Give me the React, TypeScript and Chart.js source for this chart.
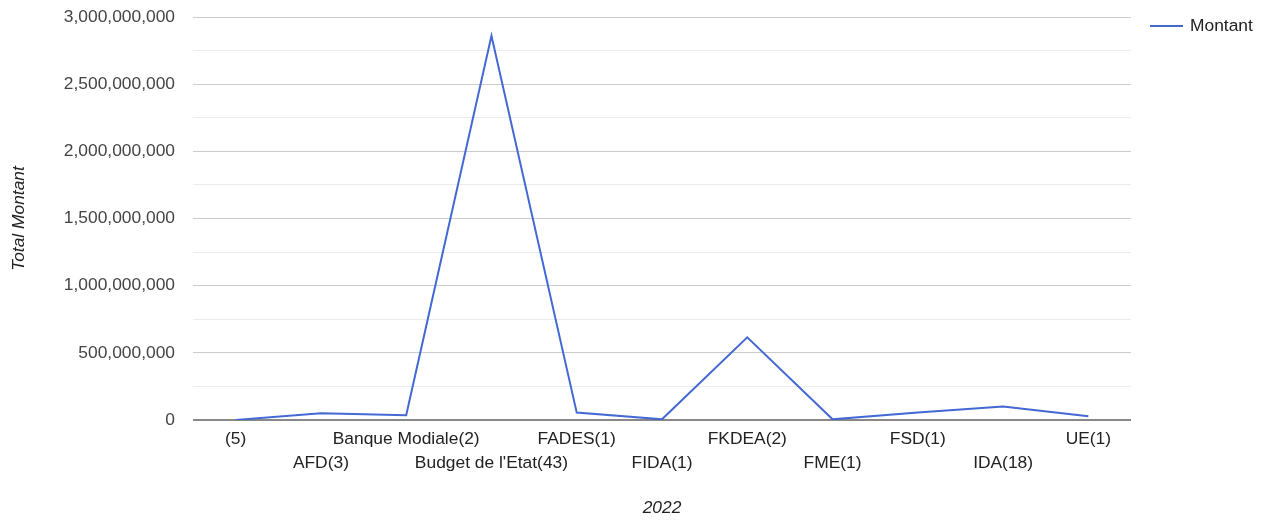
import React, { useEffect, useRef } from 'react';
import { Chart, registerables } from 'chart.js';

Chart.register(...registerables);

const categories = [
  '(5)',
  'AFD(3)',
  'Banque Modiale(2)',
  "Budget de l'Etat(43)",
  'FADES(1)',
  'FIDA(1)',
  'FKDEA(2)',
  'FME(1)',
  'FSD(1)',
  'IDA(18)',
  'UE(1)',
];
const montant = [
  500000, 50000000, 35000000, 2860000000, 55000000, 5000000, 615000000, 5000000, 55000000,
  100000000, 28000000,
];
const seriesName = 'Montant';
const xTitle = '2022';
const yTitle = 'Total Montant';
const yMin = 0;
const yMax = 3000000000;
const yMajorStep = 500000000;
const yMinorStep = 250000000;

const FONT = '"Liberation Sans", Arial, sans-serif';
const FS = 17.4;
const LINE_COLOR = '#4468d4';

const legendPlugin = {
  id: 'rightLegend',
  afterDraw(chart: any) {
    const ctx = chart.ctx;
    const area = chart.chartArea;
    const y = area.top + 9;
    const x0 = area.right + 19;
    ctx.save();
    ctx.strokeStyle = LINE_COLOR;
    ctx.lineWidth = 2;
    ctx.beginPath();
    ctx.moveTo(x0, y);
    ctx.lineTo(x0 + 33, y);
    ctx.stroke();
    ctx.fillStyle = '#222222';
    ctx.font = `${FS}px ${FONT}`;
    ctx.textBaseline = 'middle';
    ctx.textAlign = 'left';
    ctx.fillText(chart.data.datasets[0].label, x0 + 40, y);
    ctx.restore();
  },
};

export default function App() {
  const ref = useRef<HTMLCanvasElement>(null);

  useEffect(() => {
    if (!ref.current) return;
    const chart = new Chart(ref.current, {
      type: 'line',
      data: {
        labels: categories,
        datasets: [
          {
            label: seriesName,
            data: montant,
            borderColor: LINE_COLOR,
            backgroundColor: LINE_COLOR,
            borderWidth: 2,
            pointRadius: 0,
            pointHoverRadius: 0,
            tension: 0,
            fill: false,
          },
        ],
      },
      options: {
        animation: false,
        responsive: false,
        devicePixelRatio: 1,
        layout: { padding: { top: 17, right: 133, bottom: 0, left: 0 } },
        plugins: {
          legend: { display: false },
          tooltip: { enabled: false },
        },
        scales: {
          x: {
            type: 'category',
            offset: true,
            grid: { display: false, drawTicks: false },
            border: { display: false },
            afterFit: (scale: any) => {
              scale.height = 102;
              scale.paddingLeft = 0;
              scale.paddingRight = 0;
            },
            ticks: {
              autoSkip: false,
              maxRotation: 0,
              minRotation: 0,
              padding: 7,
              color: '#222222',
              font: { family: FONT, size: FS, lineHeight: 24 / FS },
              callback: function (this: any, _v: any, i: number) {
                const label = categories[i];
                return i % 2 === 1 ? ['', label] : label;
              },
            },
            title: {
              display: true,
              text: xTitle,
              color: '#222222',
              font: { family: FONT, size: FS, style: 'italic', lineHeight: 1.2 },
              padding: { top: 0, bottom: 3.6 },
            },
          },
          y: {
            min: yMin,
            max: yMax,
            afterFit: (scale: any) => {
              scale.width = 193;
              scale.paddingTop = 0;
              scale.paddingBottom = 0;
            },
            border: { display: false },
            grid: {
              drawTicks: false,
              color: (c: any) =>
                c.tick && c.tick.value === 0
                  ? '#888888'
                  : c.tick && c.tick.value % yMajorStep === 0
                  ? '#cccccc'
                  : '#ebebeb',
              lineWidth: (c: any) => (c.tick && c.tick.value === 0 ? 2 : 1),
            },
            ticks: {
              stepSize: yMinorStep,
              padding: 18,
              color: '#444444',
              font: { family: FONT, size: FS },
              callback: (v: any) =>
                Number(v) % yMajorStep === 0 ? Number(v).toLocaleString('en-US') : '',
            },
            title: {
              display: true,
              text: yTitle,
              color: '#222222',
              font: { family: FONT, size: FS, style: 'italic', lineHeight: 1.2 },
              padding: { top: 9.2, bottom: 0 },
            },
          },
        },
      },
      plugins: [legendPlugin],
    });
    return () => chart.destroy();
  }, []);

  return (
    <div style={{ position: 'absolute', left: 0, top: 0, width: 1264, height: 522, background: '#ffffff' }}>
      <canvas ref={ref} width={1264} height={522} />
    </div>
  );
}
